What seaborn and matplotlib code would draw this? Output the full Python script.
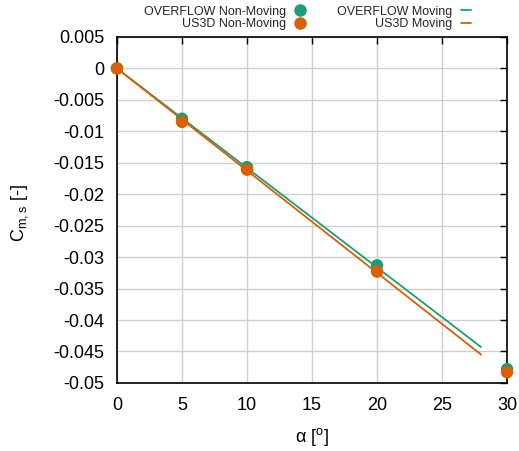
import numpy as np
import pandas as pd
import matplotlib
matplotlib.use("Agg")
import matplotlib.pyplot as plt
import seaborn as sns
from matplotlib.lines import Line2D

# data
alpha_pts = [0, 5, 10, 20, 30]
overflow_nm = [0.0, -0.0080, -0.0157, -0.0313, -0.0478]
us3d_nm = [0.0, -0.0085, -0.0161, -0.0323, -0.0483]
alpha_line = [0, 28]
overflow_m = [0.0, -0.0443]
us3d_m = [0.0, -0.0455]
xticks = [0, 5, 10, 15, 20, 25, 30]
yticks = [0.005, 0, -0.005, -0.01, -0.015, -0.02, -0.025, -0.03, -0.035, -0.04, -0.045, -0.05]
ytick_labels = ["0.005", "0", "-0.005", "-0.01", "-0.015", "-0.02", "-0.025", "-0.03", "-0.035", "-0.04", "-0.045", "-0.05"]

green = "#1b9e77"
orange = "#d95f02"

sns.set_theme(style="white")
plt.rcParams['font.family'] = ['Liberation Sans', 'DejaVu Sans']
plt.rcParams['mathtext.fontset'] = 'custom'
plt.rcParams['mathtext.rm'] = 'Liberation Sans'
plt.rcParams['mathtext.it'] = 'Liberation Sans'

fig = plt.figure(figsize=(5.19, 4.51), dpi=100)
ax = fig.add_axes([0.2254, 0.151, 0.977 - 0.2254, 0.918 - 0.151])

df_l = pd.DataFrame({"a": alpha_line * 2, "c": overflow_m + us3d_m,
                     "s": ["OVERFLOW Moving"] * 2 + ["US3D Moving"] * 2})
sns.lineplot(data=df_l, x="a", y="c", hue="s", palette=[green, orange], ax=ax,
             legend=False, linewidth=1.3, zorder=3)
df_p = pd.DataFrame({"a": alpha_pts * 2, "c": overflow_nm + us3d_nm,
                     "s": ["OVERFLOW Non-Moving"] * 5 + ["US3D Non-Moving"] * 5})
sns.scatterplot(data=df_p, x="a", y="c", hue="s", palette=[green, orange], ax=ax,
                legend=False, s=80, edgecolor="none", zorder=4, clip_on=False)

ax.set_xlim(0, 30)
ax.set_ylim(-0.05, 0.005)
ax.set_xticks(xticks)
ax.set_yticks(yticks)
ax.set_yticklabels(ytick_labels)
ax.grid(True, color="#d0d0d0", linewidth=1)
ax.set_axisbelow(True)
for sp in ax.spines.values():
    sp.set_color("black")
    sp.set_linewidth(1.2)
ax.tick_params(axis="both", direction="in", length=5, width=1, color="black",
               labelsize=13, top=True, right=True, labelcolor="black")
ax.tick_params(axis="y", pad=9)
ax.tick_params(axis="x", pad=10)
ax.set_xlabel(r"α [$^{\mathrm{o}}$]", fontsize=13, color="black")
ax.set_ylabel(r"C$_{\mathrm{m,s}}$ [-]", fontsize=13, color="black")
ax.xaxis.set_label_coords(0.5, -0.156)
ax.yaxis.set_label_coords(-0.25, 0.49)
ax.xaxis.label.set_va("center")
ax.yaxis.label.set_va("center")

handles = [
    Line2D([], [], marker="o", color=green, linestyle="none", markersize=8),
    Line2D([], [], marker="o", color=orange, linestyle="none", markersize=8),
    Line2D([], [], color=green, linewidth=1.3),
    Line2D([], [], color=orange, linewidth=1.3),
]
labels = ["OVERFLOW Non-Moving", "US3D Non-Moving", "OVERFLOW Moving", "US3D Moving"]
fig.legend(handles, labels, ncol=2, markerfirst=False, frameon=False,
           loc="upper left", bbox_to_anchor=(0.256, 1.012), fontsize=9,
           handlelength=0.8, columnspacing=2.6, labelspacing=0.05, handletextpad=0.7)

fig.savefig("out.png", dpi=100)
